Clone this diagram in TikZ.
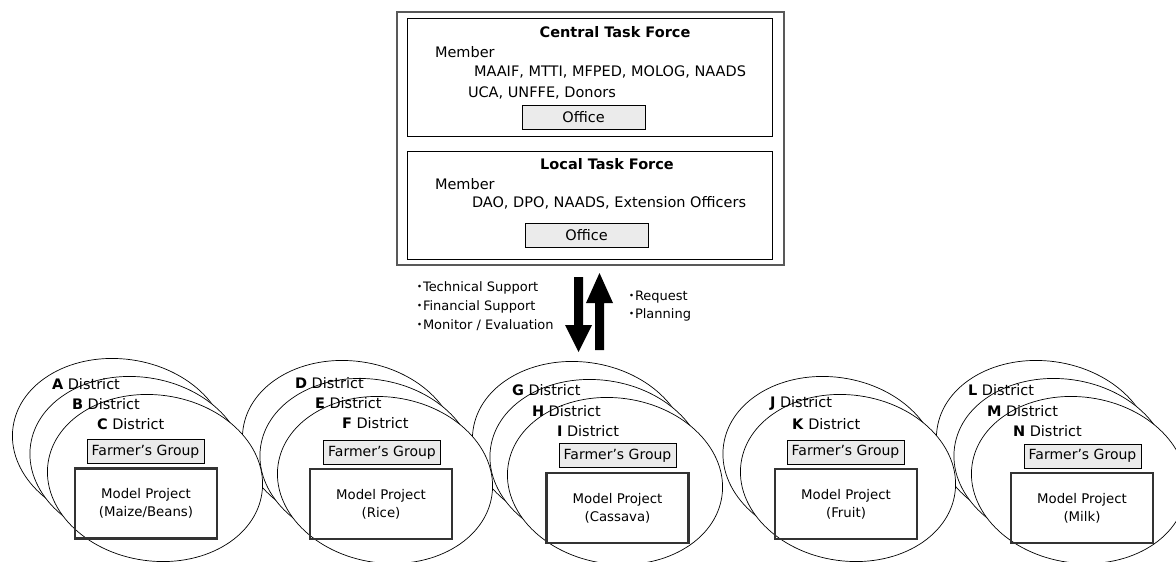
\documentclass[tikz,border=0pt]{standalone}
\usepackage{fontspec}
\setmainfont{DejaVu Sans}
\newfontfamily\cjk{Noto Sans CJK JP}
\usetikzlibrary{shapes.geometric}
% bullet used in front of the support and request items
\newcommand{\itemdot}{\makebox[7pt]{\cjk ・}}
\begin{document}
\begin{tikzpicture}[x=1pt,y=-1pt,
  every node/.style={inner sep=0pt, outer sep=0pt},
  txt/.style={font=\fontsize{14.5}{17}\selectfont, anchor=west},
  tftitle/.style={font=\fontsize{14.5}{17}\selectfont\bfseries},
  smalltxt/.style={font=\fontsize{13}{15}\selectfont, anchor=west},
  outerbox/.style={draw=black!65, line width=2.2pt},
  tfbox/.style={draw, line width=0.8pt},
  officebox/.style={draw, line width=0.8pt, fill=black!8, minimum width=123pt, minimum height=24pt, font=\fontsize{14.5}{17}\selectfont},
  district/.style={ellipse, draw, line width=0.7pt, fill=white, minimum width=216pt, minimum height=166pt, rotate=-8},
  farmer/.style={draw, line width=0.8pt, fill=black!8, minimum width=117pt, minimum height=24pt, font=\fontsize{14}{17}\selectfont},
  model/.style={draw=black!80, line width=2.2pt, minimum width=142pt, minimum height=70pt, align=center, font=\fontsize{13.3}{18}\selectfont},
  blockarrow/.style={fill=black}
]
\useasboundingbox (0,0) rectangle (1176,562);

% ---- district ellipses, drawn right to left, back to front ----
\node[district] (dL) at (1044,444) {};
\node[district] (dM) at (1061.5,462) {};
\node[district] (dN) at (1079,480) {};
\node[district] (dJ) at (830.5,460) {};
\node[district] (dK) at (848,478) {};
\node[district] (dG) at (580,445) {};
\node[district] (dH) at (597.5,463) {};
\node[district] (dI) at (615,481) {};
\node[district] (dD) at (350,444) {};
\node[district] (dE) at (367.5,462) {};
\node[district] (dF) at (385,480) {};
\node[district] (dA) at (120,442) {};
\node[district] (dB) at (137.5,460) {};
\node[district] (dC) at (155,478) {};

% ---- task force block ----
\node[outerbox, minimum width=387pt, minimum height=253pt] (tf) at (590.5,138.5) {};
\node[tfbox, minimum width=365pt, minimum height=118pt] (ctf) at (589.5,77) {};
\node[tfbox, minimum width=365pt, minimum height=108pt] (ltf) at (589.5,205) {};

\node[tftitle] (ctitle) at (615,32) {Central Task Force};
\node[txt] (cmem) at (435,52) {Member};
\node[txt] (cmem1) at (474,72) {MAAIF, MTTI, MFPED, MOLOG, NAADS};
\node[txt] (cmem2) at (468,93) {UCA, UNFFE, Donors};
\node[officebox] (coffice) at (583.5,117) {Office};

\node[tftitle] (ltitle) at (607,164) {Local Task Force};
\node[txt] (lmem) at (435,184) {Member};
\node[txt] (lmem1) at (472,203) {DAO, DPO, NAADS, Extension Officers};
\node[officebox] (loffice) at (586.5,235) {Office};

% ---- support / request arrows ----
\begin{scope}[shift={(578.5,277)}]
  \fill[blockarrow] (-4.5,0) -- (4.5,0) -- (4.5,48) -- (13.5,48) -- (0,75) -- (-13.5,48) -- (-4.5,48) -- cycle;
\end{scope}
\begin{scope}[shift={(599.5,273)}]
  \fill[blockarrow] (0,0) -- (13.5,30) -- (4.5,30) -- (4.5,77) -- (-4.5,77) -- (-4.5,30) -- (-13.5,30) -- cycle;
\end{scope}

\node[smalltxt] (s1) at (416,288) {\itemdot Technical Support};
\node[smalltxt] (s2) at (416,306.5) {\itemdot Financial Support};
\node[smalltxt] (s3) at (416,325) {\itemdot Monitor / Evaluation};
\node[smalltxt] (r1) at (628,297) {\itemdot Request};
\node[smalltxt] (r2) at (628,315) {\itemdot Planning};

% ---- district labels ----
\node[txt] at (52,384) {\textbf{A} District};
\node[txt] at (72,404) {\textbf{B} District};
\node[txt] at (97,424) {\textbf{C} District};
\node[txt] at (295,383) {\textbf{D} District};
\node[txt] at (315,403) {\textbf{E} District};
\node[txt] at (342,423) {\textbf{F} District};
\node[txt] at (512,390) {\textbf{G} District};
\node[txt] at (532,411) {\textbf{H} District};
\node[txt] at (557,431) {\textbf{I} District};
\node[txt] at (770,403) {\textbf{J} District};
\node[txt] at (792,424) {\textbf{K} District};
\node[txt] at (968,390) {\textbf{L} District};
\node[txt] at (987,411) {\textbf{M} District};
\node[txt] at (1013,431) {\textbf{N} District};

% ---- farmer's groups and model projects ----
\node[farmer] (fg1) at (145.5,451.5) {Farmer’s Group};
\node[model] (mp1) at (146,503.5) {Model Project\\(Maize/Beans)};
\node[farmer] (fg2) at (382,452.5) {Farmer’s Group};
\node[model] (mp2) at (381,504) {Model Project\\(Rice)};
\node[farmer] (fg3) at (617.5,455.5) {Farmer’s Group};
\node[model] (mp3) at (617.5,508) {Model Project\\(Cassava)};
\node[farmer] (fg4) at (845.5,452) {Farmer’s Group};
\node[model] (mp4) at (846,504) {Model Project\\(Fruit)};
\node[farmer] (fg5) at (1082.5,456) {Farmer’s Group};
\node[model] (mp5) at (1082,508) {Model Project\\(Milk)};
\end{tikzpicture}
\end{document}
